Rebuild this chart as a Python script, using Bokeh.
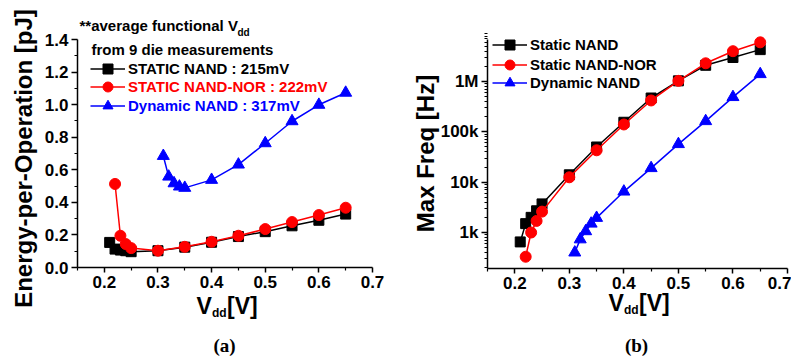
import math
from bokeh.plotting import figure
from bokeh.models import (Range1d, FixedTicker, Label, Legend, LegendItem)
from bokeh.layouts import row
from bokeh.embed import file_html
from bokeh.resources import INLINE

# ---------------- data ----------------
vdd_static_nand = [0.21, 0.22, 0.23, 0.24, 0.25, 0.30, 0.35, 0.40, 0.45, 0.50, 0.55, 0.60, 0.65]
vdd_static_nor = [0.22, 0.23, 0.24, 0.25, 0.30, 0.35, 0.40, 0.45, 0.50, 0.55, 0.60, 0.65]
vdd_dynamic = [0.31, 0.32, 0.33, 0.34, 0.35, 0.40, 0.45, 0.50, 0.55, 0.60, 0.65]

energy_static_nand = [0.154, 0.113, 0.107, 0.103, 0.097, 0.103, 0.125, 0.155, 0.19, 0.22, 0.256, 0.29, 0.328]
energy_static_nor = [0.513, 0.195, 0.144, 0.119, 0.103, 0.127, 0.158, 0.195, 0.236, 0.279, 0.322, 0.367]
energy_dynamic = [0.685, 0.558, 0.517, 0.497, 0.489, 0.538, 0.632, 0.763, 0.898, 0.999, 1.073]

freq_static_nand = [650, 1500, 2000, 2700, 3700, 14000, 50000, 155000, 470000, 1030000, 2100000, 3000000, 4300000]
freq_static_nor = [330, 1000, 1700, 2600, 12500, 43000, 140000, 420000, 1030000, 2300000, 4000000, 6000000]
freq_dynamic = [400, 730, 1060, 1500, 1950, 6500, 19000, 57000, 163000, 490000, 1400000]

legend_a = ["STATIC NAND : 215mV", "STATIC NAND-NOR : 222mV", "Dynamic NAND : 317mV"]
legend_b = ["Static NAND", "Static NAND-NOR", "Dynamic NAND"]

x_ticks = [0.2, 0.3, 0.4, 0.5, 0.6, 0.7]
x_minor = [0.15, 0.25, 0.35, 0.45, 0.55, 0.65]
ya_ticks = [0.0, 0.2, 0.4, 0.6, 0.8, 1.0, 1.2, 1.4]
ya_minor = [0.1, 0.3, 0.5, 0.7, 0.9, 1.1, 1.3]
yb_ticks = [1e3, 1e4, 1e5, 1e6]
yb_labels = ["1k", "10k", "100k", "1M"]

BLACK, RED, BLUE = "#000000", "#ff0000", "#0000ff"
FONT = "Liberation Sans"
SERIF = "Liberation Serif"
H = 356


def span(v0, p0, v1, p1, total):
    """range (start, end) so that value v0 sits at pixel p0 and v1 at p1"""
    k = (p1 - p0) / (v1 - v0)
    start = v0 - p0 / k
    return start, start + total / k


def style_axes(p):
    p.outline_line_color = None
    p.xgrid.visible = False
    p.ygrid.visible = False
    for ax in (p.xaxis[0], p.yaxis[0]):
        ax.axis_line_width = 1.5
        ax.major_tick_line_width = 1.5
        ax.minor_tick_line_width = 1.2
        ax.major_tick_in = 0
        ax.minor_tick_in = 0
        ax.major_label_text_font = FONT
        ax.major_label_text_font_style = "bold"
        ax.major_label_text_font_size = "17px"
        ax.major_label_text_color = BLACK
    p.xaxis[0].major_tick_out = 5
    p.xaxis[0].minor_tick_out = 3
    p.xaxis[0].major_label_standoff = 3
    p.yaxis[0].major_tick_out = 6
    p.yaxis[0].minor_tick_out = 3
    p.yaxis[0].major_label_standoff = 3
    p.xaxis[0].ticker = FixedTicker(ticks=x_ticks, minor_ticks=x_minor)
    p.xaxis[0].major_label_overrides = {t: f"{t:.1f}" for t in x_ticks}


def series(p, xs, ys, color, marker, size):
    lr = p.line(xs, ys, line_color=color, line_width=1.5)
    sr = p.scatter(xs, ys, marker=marker, size=size, fill_color=color, line_color=color)
    return [lr, sr]


def add_legend(p, renderers, label, color, vx, vy):
    leg = Legend(items=[LegendItem(label=label, renderers=renderers)],
                 location=(vx, vy), orientation="vertical",
                 glyph_width=35, glyph_height=25, label_height=25,
                 label_standoff=3, padding=0, margin=0, spacing=0,
                 border_line_color=None, background_fill_alpha=0,
                 label_text_font=FONT, label_text_font_style="bold",
                 label_text_font_size="15px", label_text_color=color)
    p.add_layout(leg)


def text(p, x, y, t, size, font=FONT, align="left", angle=0.0):
    p.add_layout(Label(x=x, y=y, x_units="screen", y_units="screen", text=t,
                       text_font=font, text_font_style="bold",
                       text_font_size=size, text_color=BLACK, angle=angle,
                       text_baseline="alphabetic", text_align=align))


def bare_figure(width, xr, yr, **kw):
    return figure(width=width, height=H, x_range=Range1d(*xr), y_range=Range1d(*yr),
                  output_backend="svg", toolbar_location=None,
                  min_border_left=0, min_border_right=0, min_border_top=0,
                  min_border_bottom=0, **kw)


# ---------------- (a) energy ----------------
WA = 392
xr_a = span(0.15, 77, 0.7, 372, WA)
yr_a = span(0.0, H - 267, 1.4, H - 39, H)
pa = bare_figure(WA, xr_a, yr_a)
style_axes(pa)
pa.xaxis[0].fixed_location = 0.0
pa.xaxis[0].bounds = (0.15, 0.7)
pa.yaxis[0].fixed_location = 0.15
pa.yaxis[0].bounds = (0.0, 1.4)
pa.yaxis[0].ticker = FixedTicker(ticks=ya_ticks, minor_ticks=ya_minor)
pa.yaxis[0].major_label_overrides = {t: f"{t:.1f}" for t in ya_ticks}

ra1 = series(pa, vdd_static_nand, energy_static_nand, BLACK, "square", 10)
ra2 = series(pa, vdd_static_nor, energy_static_nor, RED, "circle", 11)
ra3 = series(pa, vdd_dynamic, energy_dynamic, BLUE, "triangle", 12)

add_legend(pa, ra1, legend_a[0], BLACK, 90, H - 80.5)
add_legend(pa, ra2, legend_a[1], RED, 90, H - 98.5)
add_legend(pa, ra3, legend_a[2], BLUE, 90, H - 117.5)

text(pa, 79, H - 25, "**average functional V", "15px")
text(pa, 237, H - 32, "dd", "10px")
text(pa, 91, H - 49, "from 9 die measurements", "15px")
text(pa, 23, H - 158, "Energy-per-Operation [pJ]", "24px", align="center", angle=math.pi / 2)

text(pa, 196, H - 305, "V", "23px")
text(pa, 211.5, H - 312, "dd", "12px")
text(pa, 226.5, H - 305, "[V]", "23px")
text(pa, 224, H - 345, "(a)", "19px", font=SERIF, align="center")

# ---------------- (b) max frequency ----------------
WB = 399
OB = 392  # page x of this figure's left edge
xr_b = span(0.15, 487 - OB, 0.7, 787 - OB, WB)
lo_b, hi_b = span(3.0, H - 232, 6.0, H - 81, H)
yr_b = (10 ** lo_b, 10 ** hi_b)
ax_lo = 10 ** (lo_b + (hi_b - lo_b) * (H - 268) / H)
ax_hi = 10 ** (lo_b + (hi_b - lo_b) * (H - 39) / H)
pb = bare_figure(WB, xr_b, yr_b, y_axis_type="log")
style_axes(pb)
pb.xaxis[0].fixed_location = ax_lo
pb.xaxis[0].bounds = (0.15, 0.7)
pb.yaxis[0].fixed_location = 0.15
pb.yaxis[0].bounds = (ax_lo, ax_hi)
minor_b = [m * 10 ** e for e in range(2, 7) for m in range(2, 10)]
pb.yaxis[0].ticker = FixedTicker(ticks=yb_ticks, minor_ticks=minor_b)
pb.yaxis[0].major_label_overrides = dict(zip(yb_ticks, yb_labels))

rb1 = series(pb, vdd_static_nand, freq_static_nand, BLACK, "square", 10)
rb2 = series(pb, vdd_static_nor, freq_static_nor, RED, "circle", 11)
rb3 = series(pb, vdd_dynamic, freq_dynamic, BLUE, "triangle", 12)

add_legend(pb, rb1, legend_b[0], BLACK, 492 - OB, H - 56.5)
add_legend(pb, rb2, legend_b[1], BLACK, 492 - OB, H - 76.5)
add_legend(pb, rb3, legend_b[2], BLACK, 492 - OB, H - 94.5)

text(pb, 425 - OB, H - 153, "Max Freq [Hz]", "24px", align="center", angle=math.pi / 2)
text(pb, 608 - OB, H - 302, "V", "23px")
text(pb, 623.5 - OB, H - 309, "dd", "12px")
text(pb, 638.5 - OB, H - 302, "[V]", "23px")
text(pb, 636 - OB, H - 345, "(b)", "19px", font=SERIF, align="center")

layout = row(pa, pb)
open("out.html", "w").write(file_html(layout, INLINE))
